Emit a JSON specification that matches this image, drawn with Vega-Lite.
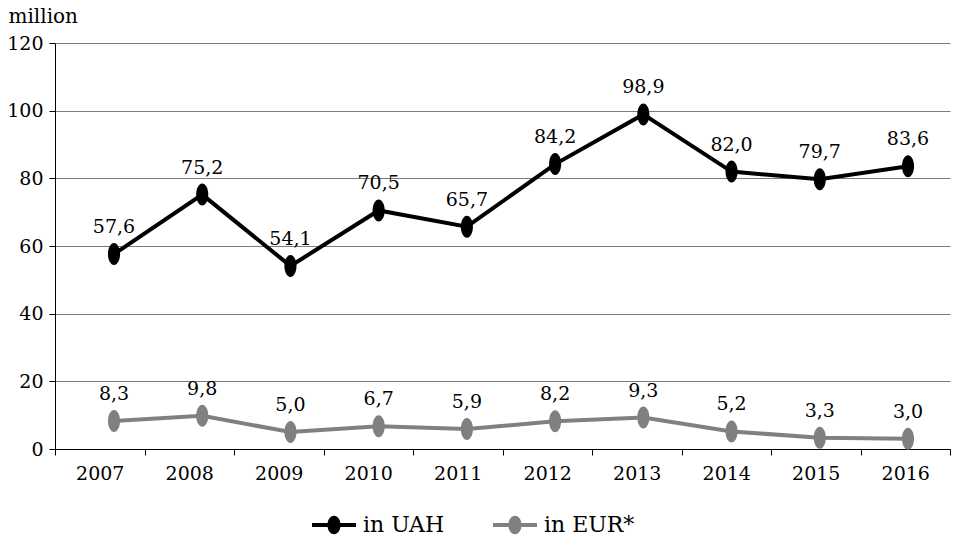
{
  "$schema": "https://vega.github.io/schema/vega-lite/v6.json",
  "width": 895,
  "height": 406,
  "autosize": {"type": "none"},
  "padding": {"left": 55, "top": 43, "right": 3, "bottom": 92},
  "background": "white",
  "config": {
    "font": "DejaVu Serif",
    "locale": {"number": {"decimal": ",", "thousands": " ", "grouping": [3], "currency": ["", ""]}},
    "view": {"stroke": null},
    "text": {"font": "DejaVu Serif"},
    "axis": {
      "labelFont": "DejaVu Serif",
      "titleFont": "DejaVu Serif",
      "labelColor": "black",
      "titleColor": "black",
      "domainColor": "black",
      "tickColor": "black",
      "labelFontSize": 19,
      "titleFontSize": 20,
      "titleFontWeight": "normal"
    },
    "legend": {
      "labelFont": "DejaVu Serif"
    }
  },
  "data": {
    "values": [
      {"year": "2007", "series": "in UAH", "value": 57.6},
      {"year": "2008", "series": "in UAH", "value": 75.2},
      {"year": "2009", "series": "in UAH", "value": 54.1},
      {"year": "2010", "series": "in UAH", "value": 70.5},
      {"year": "2011", "series": "in UAH", "value": 65.7},
      {"year": "2012", "series": "in UAH", "value": 84.2},
      {"year": "2013", "series": "in UAH", "value": 98.9},
      {"year": "2014", "series": "in UAH", "value": 82.0},
      {"year": "2015", "series": "in UAH", "value": 79.7},
      {"year": "2016", "series": "in UAH", "value": 83.6},
      {"year": "2007", "series": "in EUR*", "value": 8.3},
      {"year": "2008", "series": "in EUR*", "value": 9.8},
      {"year": "2009", "series": "in EUR*", "value": 5.0},
      {"year": "2010", "series": "in EUR*", "value": 6.7},
      {"year": "2011", "series": "in EUR*", "value": 5.9},
      {"year": "2012", "series": "in EUR*", "value": 8.2},
      {"year": "2013", "series": "in EUR*", "value": 9.3},
      {"year": "2014", "series": "in EUR*", "value": 5.2},
      {"year": "2015", "series": "in EUR*", "value": 3.3},
      {"year": "2016", "series": "in EUR*", "value": 3.0}
    ]
  },
  "encoding": {
    "y": {
      "field": "value",
      "type": "quantitative",
      "scale": {"domain": [0, 120], "nice": false},
      "axis": {
        "values": [0, 20, 40, 60, 80, 100, 120],
        "grid": true,
        "gridColor": "#7a7a7a",
        "gridWidth": 1,
        "tickSize": 6,
        "labelPadding": 6,
        "title": "million",
        "titleAngle": 0,
        "titleAlign": "left",
        "titleBaseline": "alphabetic",
        "titleX": -47,
        "titleY": -21
      }
    }
  },
  "layer": [
    {
      "mark": {"type": "text", "text": "", "opacity": 0},
      "encoding": {
        "x": {
          "field": "year",
          "type": "ordinal",
          "scale": {"type": "band", "paddingInner": 0, "paddingOuter": 0},
          "axis": {
            "title": null,
            "labelAngle": 0,
            "tickBand": "extent",
            "tickSize": 6,
            "labelPadding": 9,
            "domainWidth": 1.2
          }
        }
      }
    },
    {
      "mark": {"type": "line", "strokeWidth": 4},
      "encoding": {
        "x": {"field": "year", "type": "ordinal", "scale": {"type": "point", "padding": 0, "range": [59, 853]}, "axis": null},
        "color": {
          "field": "series",
          "type": "nominal",
          "scale": {"domain": ["in UAH", "in EUR*"], "range": ["#000000", "#808080"]}
        }
      }
    },
    {
      "mark": {
        "type": "point",
        "filled": true,
        "opacity": 1,
        "size": 484,
        "strokeWidth": 0,
        "shape": "M0,-1A0.55,1 0 1,1 0,1A0.55,1 0 1,1 0,-1Z"
      },
      "encoding": {
        "x": {"field": "year", "type": "ordinal", "scale": {"type": "point", "padding": 0, "range": [59, 853]}, "axis": null},
        "color": {
          "field": "series",
          "type": "nominal",
          "scale": {"domain": ["in UAH", "in EUR*"], "range": ["#000000", "#808080"]},
          "legend": {
            "title": null,
            "orient": "none",
            "direction": "horizontal",
            "legendX": 257,
            "legendY": 460,
            "columnPadding": 48,
            "labelFontSize": 22,
            "labelColor": "black",
            "labelOffset": 7,
            "symbolSize": 1936,
            "symbolStrokeWidth": 0,
            "symbolOpacity": 1,
            "symbolType": "M-1,-0.09H1V0.09H-1Z M0,-0.42A0.3,0.42 0 1,1 0,0.42A0.3,0.42 0 1,1 0,-0.42Z"
          }
        }
      }
    },
    {
      "mark": {"type": "text", "dy": -21, "baseline": "alphabetic", "fontSize": 19, "color": "black"},
      "encoding": {
        "x": {"field": "year", "type": "ordinal", "scale": {"type": "point", "padding": 0, "range": [59, 853]}, "axis": null},
        "text": {"field": "value", "type": "quantitative", "format": ".1f"}
      }
    }
  ],
  "resolve": {"scale": {"x": "independent"}}
}
